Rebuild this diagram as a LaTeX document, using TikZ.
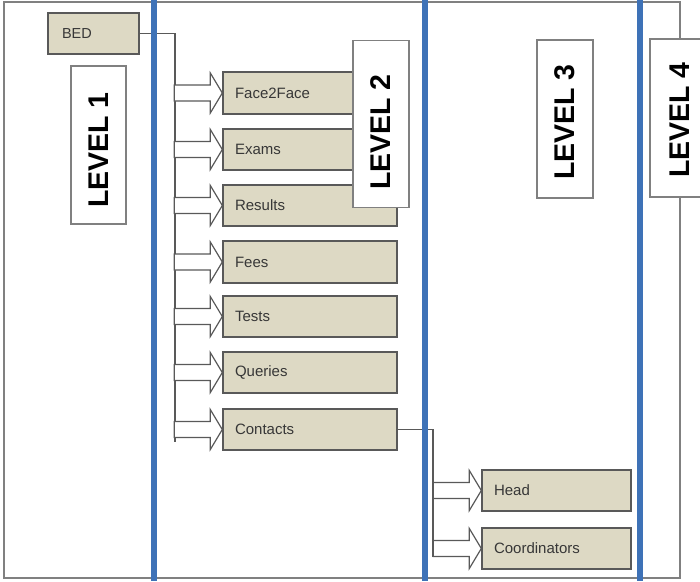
\documentclass[tikz,border=0pt]{standalone}
\usepackage{fontspec}
\setmainfont{Liberation Sans}
\definecolor{boxfill}{RGB}{221,217,196}
\definecolor{boxline}{RGB}{89,89,89}
\definecolor{bluebar}{RGB}{62,114,183}
\definecolor{framegray}{RGB}{128,128,128}
\definecolor{txtgray}{RGB}{55,55,55}
\tikzset{
  itembox/.style={draw=boxline, fill=boxfill, line width=1.4pt, minimum height=41pt,
    inner xsep=12pt, inner ysep=0pt, align=left, text=txtgray,
    font=\fontsize{15}{17}\selectfont},
  lvl2/.style={itembox, text width=150pt},
  lvl3/.style={itembox, text width=125pt},
  levelbox/.style={draw=framegray, fill=white, line width=1.2pt, rotate=90,
    minimum width=158pt, minimum height=56pt, inner sep=0pt,
    font=\fontsize{28.5}{31}\selectfont\bfseries},
  blockarrow/.style={draw=boxline, fill=white, line width=1.2pt, line join=miter},
  connector/.style={draw=boxline, line width=1.2pt},
  bluebarline/.style={draw=bluebar, line width=6pt},
}
\begin{document}
\begin{tikzpicture}[x=1pt,y=-1pt]
\useasboundingbox (0,0) rectangle (700,581);
% outer frame
\draw[framegray, line width=1.5pt] (4,2) rectangle (680,578);

% level 1
\node[itembox, text width=63pt, inner xsep=14pt, font=\fontsize{14.5}{16}\selectfont] (bed) at (93.5,33.5) {BED};

% level 2 boxes
\node[lvl2] (f2f)      at (310,93)    {Face2Face};
\node[lvl2] (exams)    at (310,149.5) {Exams};
\node[lvl2] (results)  at (310,205.5) {Results};
\node[lvl2] (fees)     at (310,262)   {Fees};
\node[lvl2] (tests)    at (310,316.5) {Tests};
\node[lvl2] (queries)  at (310,372.5) {Queries};
\node[lvl2] (contacts) at (310,429.5) {Contacts};

% level 3 boxes
\node[lvl3] (head)   at (556.5,490.5) {Head};
\node[lvl3] (coord)  at (556.5,548.5) {Coordinators};

% connectors
\coordinate (trunkend) at (175,442);
\coordinate (branchend) at (433,557);
\draw[connector] (bed.east) -| (trunkend);
\draw[connector] (contacts.east) -| (branchend);

% block arrows
\foreach \n in {f2f,exams,results,fees,tests,queries,contacts,head,coord}{
  \filldraw[blockarrow] (\n.west) -- ++(-12pt,20pt) -- ++(0,-12pt) -- ++(-36pt,0)
    -- ++(0,-16pt) -- ++(36pt,0) -- ++(0,-12pt) -- cycle;
}
% redraw box borders over arrow tips
\foreach \n in {f2f,exams,results,fees,tests,queries,contacts,head,coord}{
  \draw[boxline, line width=1.4pt] (\n.north west) rectangle (\n.south east);
}

% blue separators
\draw[bluebarline] (153.5,0) -- (153.5,581);
\draw[bluebarline] (425,0) -- (425,581);
\draw[bluebarline] (640,0) -- (640,581);

% level labels
\node[levelbox, minimum height=55pt] (lv1) at (98.5,145) {LEVEL 1\kern10pt};
\node[levelbox, minimum width=167pt] (lv2) at (381,124) {LEVEL 2\kern16pt};
\node[levelbox] (lv3) at (565,119) {LEVEL 3\kern6pt};
\node[levelbox, minimum height=60pt] (lv4) at (680,118) {LEVEL 4\kern4pt};
\end{tikzpicture}
\end{document}
